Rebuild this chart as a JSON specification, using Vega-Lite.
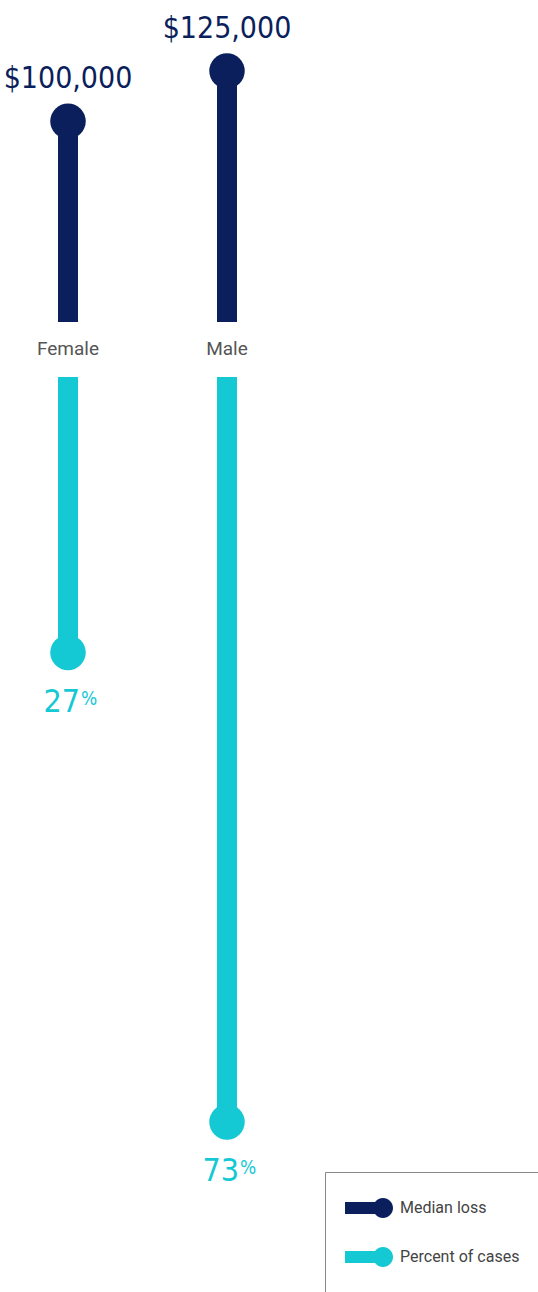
{
  "$schema": "https://vega.github.io/schema/vega-lite/v6.json",
  "width": 538,
  "height": 1292,
  "autosize": "none",
  "padding": 0,
  "background": "white",
  "config": {
    "view": {"stroke": null},
    "legend": {
      "orient": "none",
      "legendX": 325,
      "legendY": 1172,
      "titleOrient": "bottom",
      "titleFontSize": 14,
      "titlePadding": 8,
      "padding": 20,
      "strokeColor": "#888888",
      "strokeWidth": 1,
      "symbolType": "M-1.5,-0.375H0.875V0.375H-1.5Z M0.875,-0.625A0.625,0.625 0 1,1 0.875,0.625A0.625,0.625 0 1,1 0.875,-0.625Z",
      "symbolSize": 1024,
      "symbolStrokeWidth": 0,
      "symbolOffset": 8,
      "labelFont": "Roboto",
      "labelFontSize": 16,
      "labelColor": "#444444",
      "labelOffset": 15,
      "labelLimit": 300,
      "rowPadding": 23
    }
  },
  "data": {
    "values": [
      {"gender": "Female", "measure": "Median loss", "value": 100000, "label": "$100,000"},
      {"gender": "Male", "measure": "Median loss", "value": 125000, "label": "$125,000"},
      {"gender": "Female", "measure": "Percent of cases", "value": 27, "label": "27"},
      {"gender": "Male", "measure": "Percent of cases", "value": 73, "label": "73"}
    ]
  },
  "encoding": {
    "x": {
      "field": "gender",
      "type": "nominal",
      "scale": {"type": "point", "domain": ["Female", "Male"], "range": [68, 227], "padding": 0},
      "axis": null
    }
  },
  "layer": [
    {
      "transform": [{"filter": "datum.measure === 'Median loss'"}],
      "encoding": {
        "y": {"field": "value", "type": "quantitative", "scale": {"domain": [0, 125000], "range": [322, 71], "zero": false, "nice": false}, "axis": null}
      },
      "layer": [
        {"mark": {"type": "rule", "strokeWidth": 20, "color": "#0b1f5c"}, "encoding": {"y2": {"datum": 0}}},
        {
          "mark": {"type": "point", "filled": true, "shape": "circle", "size": 1260, "opacity": 1},
          "encoding": {
            "color": {
              "field": "measure", "type": "nominal",
              "scale": {"domain": ["Median loss", "Percent of cases"], "range": ["#0b1f5c", "#14c8d4"]},
              "legend": {"title": "\u00a0", "titleOrient": "bottom"}
            }
          }
        },
        {
          "mark": {"type": "text", "baseline": "alphabetic", "dy": -33, "font": "DejaVu Sans Condensed", "fontSize": 30, "color": "#0b1f5c"},
          "encoding": {"text": {"field": "label"}}
        },
        {
          "mark": {"type": "text", "baseline": "middle", "dy": 27, "font": "Roboto", "fontSize": 19, "color": "#555555"},
          "encoding": {"text": {"field": "gender"}, "y": {"datum": 0}}
        }
      ]
    },
    {
      "transform": [{"filter": "datum.measure === 'Percent of cases'"}],
      "encoding": {
        "y": {"field": "value", "type": "quantitative", "scale": {"domain": [0, 73], "range": [377, 1122], "zero": false, "nice": false}, "axis": null}
      },
      "layer": [
        {"mark": {"type": "rule", "strokeWidth": 20, "color": "#14c8d4"}, "encoding": {"y2": {"datum": 0}}},
        {
          "mark": {"type": "point", "filled": true, "shape": "circle", "size": 1260, "opacity": 1},
          "encoding": {
            "color": {
              "field": "measure", "type": "nominal",
              "scale": {"domain": ["Median loss", "Percent of cases"], "range": ["#0b1f5c", "#14c8d4"]},
              "legend": {"title": "\u00a0", "titleOrient": "bottom"}
            }
          }
        },
        {
          "mark": {"type": "text", "baseline": "alphabetic", "align": "right", "dx": 12, "dy": 59, "font": "DejaVu Sans Condensed", "fontSize": 32, "color": "#14c8d4"},
          "encoding": {"text": {"field": "label"}}
        },
        {
          "mark": {"type": "text", "baseline": "alphabetic", "align": "left", "dx": 13, "dy": 52, "font": "DejaVu Sans Condensed", "fontSize": 19, "color": "#14c8d4", "text": "%"},
          "encoding": {}
        }
      ]
    }
  ],
  "resolve": {"scale": {"y": "independent"}}
}
